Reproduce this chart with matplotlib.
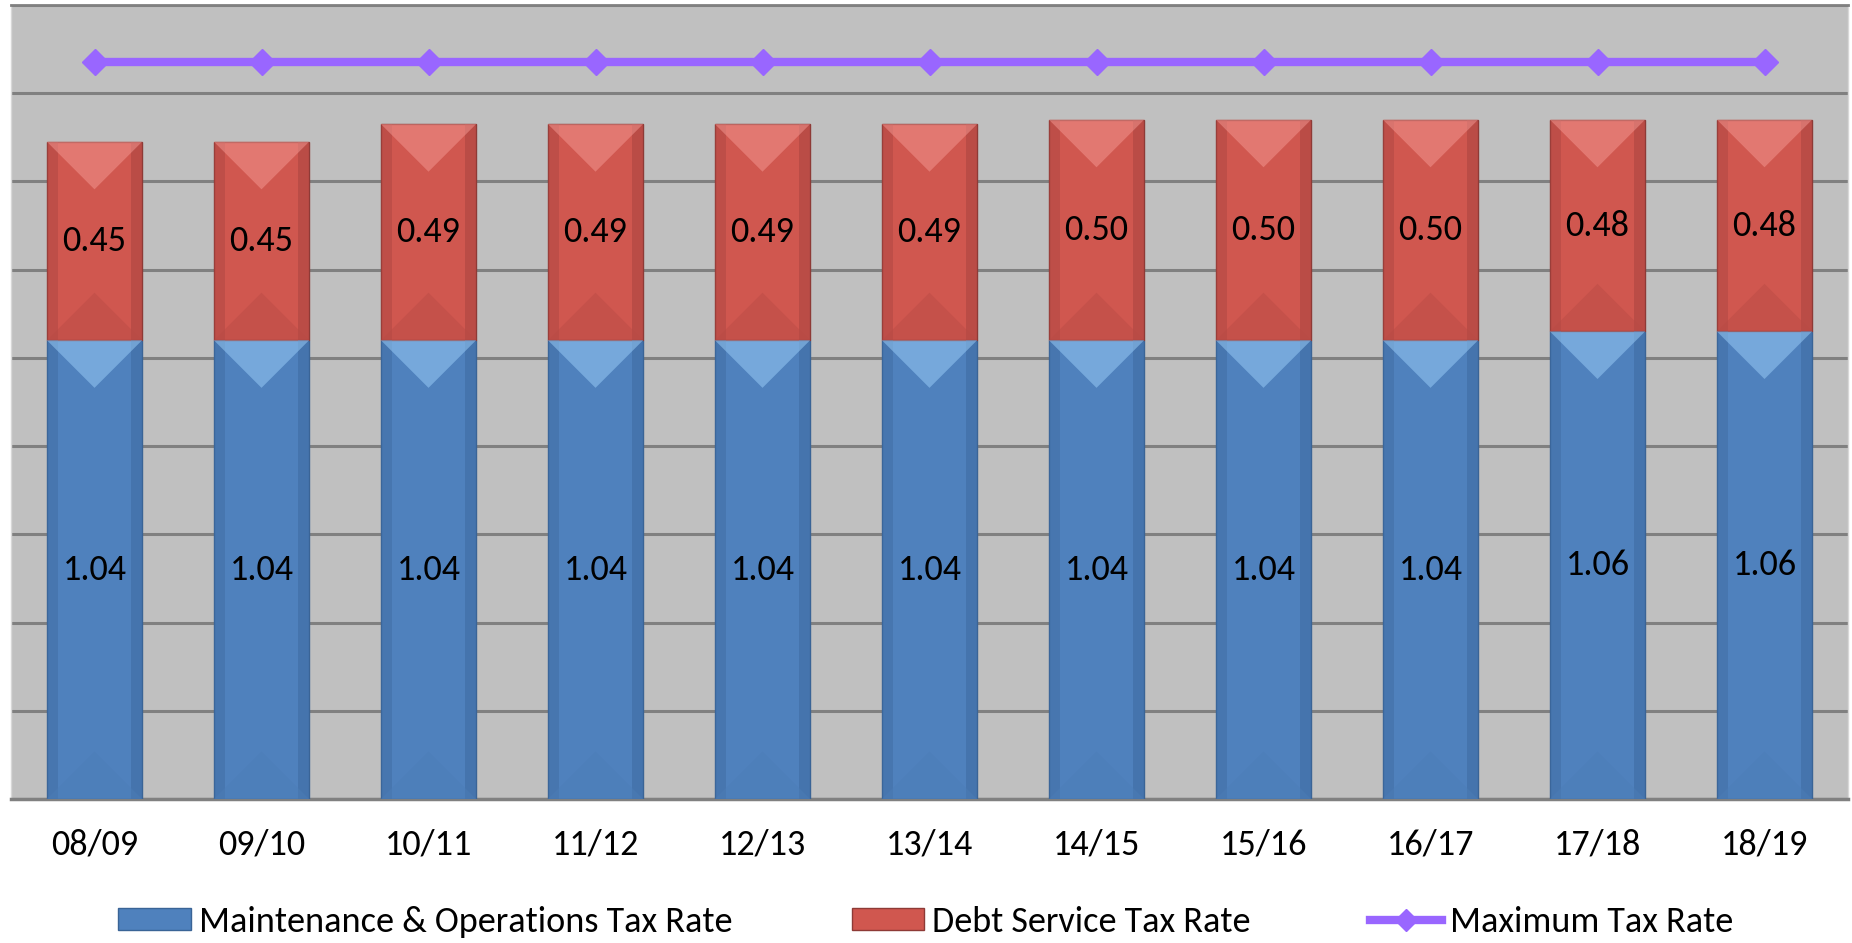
import matplotlib
matplotlib.use("Agg")
import matplotlib.pyplot as plt
from matplotlib.patches import Polygon, Rectangle
from matplotlib.lines import Line2D
from matplotlib import font_manager
import numpy as np

years = ["08/09", "09/10", "10/11", "11/12", "12/13", "13/14", "14/15", "15/16", "16/17", "17/18", "18/19"]
mo_rate = [1.04, 1.04, 1.04, 1.04, 1.04, 1.04, 1.04, 1.04, 1.04, 1.06, 1.06]
ds_rate = [0.45, 0.45, 0.49, 0.49, 0.49, 0.49, 0.50, 0.50, 0.50, 0.48, 0.48]
max_rate = [1.67] * 11

avail = {f.name for f in font_manager.fontManager.ttflist}
fam = [f for f in ["Carlito", "Lato", "DejaVu Sans"] if f in avail]
plt.rcParams['font.family'] = fam
plt.rcParams['font.weight'] = 'normal'

BLUE = "#4F81BD"
PURPLE = "#9966FF"
FS = 26

fig = plt.figure(figsize=(18.52, 9.43), dpi=100)
ax = fig.add_axes([11/1852, 1 - 799/943, (1848-11)/1852, (799-5)/943])
ax.set_facecolor("#C0C0C0")
x = np.arange(len(years))
w = 0.57

b1 = ax.bar(x, mo_rate, w, color="#4F81BD", edgecolor="#3A6496", linewidth=1, zorder=3,
            label="Maintenance & Operations Tax Rate")
b2 = ax.bar(x, ds_rate, w, bottom=mo_rate, color="#D0574F", edgecolor="#8E3A36", linewidth=1, zorder=3,
            label="Debt Service Tax Rate")
ln, = ax.plot(x, max_rate, color=PURPLE, lw=6, marker="D", ms=13, zorder=5, label="Maximum Tax Rate")

ax.set_ylim(0, 1.8)
ax.set_xlim(-0.5, len(years) - 0.5)
ax.set_yticks(np.arange(0, 1.81, 0.2))
ax.yaxis.grid(True, color="#808080", lw=2.2, zorder=1)
ax.set_axisbelow(True)
ax.tick_params(axis="y", left=False, labelleft=False)
ax.tick_params(axis="x", bottom=False, labelsize=FS, pad=18)
ax.set_xticks(x)
ax.set_xticklabels(years)
for s in ["left", "right"]:
    ax.spines[s].set_color("#D8D8D8")
    ax.spines[s].set_linewidth(1)
ax.spines["top"].set_color("#808080")
ax.spines["top"].set_linewidth(2)
ax.spines["bottom"].set_color("#808080")
ax.spines["bottom"].set_linewidth(2.5)

fig.canvas.draw()
inv = ax.transData.inverted()
def px_to_dy(px):
    p0 = inv.transform((0, 0)); p1 = inv.transform((0, px))
    return p1[1] - p0[1]
def px_w(wd):
    p0 = ax.transData.transform((0, 0)); p1 = ax.transData.transform((wd, 0))
    return p1[0] - p0[0]

for bars, light, dark, side in [(b1, "#9DD0FA", "#4C7DB7", "#3E6AA0"), (b2, "#F59A94", "#B84A45", "#A94440")]:
    for r in bars:
        bx, by, bw, bh = r.get_x(), r.get_y(), r.get_width(), r.get_height()
        d = px_to_dy(px_w(bw) / 2)
        ax.add_patch(Rectangle((bx, by), bw * 0.12, bh, color=side, alpha=0.45, lw=0, zorder=3.5))
        ax.add_patch(Rectangle((bx + bw * 0.88, by), bw * 0.12, bh, color=side, alpha=0.55, lw=0, zorder=3.5))
        top = by + bh
        ax.add_patch(Polygon([(bx, top), (bx + bw, top), (bx + bw / 2, top - d)], closed=True,
                             color=light, alpha=0.5, lw=0, zorder=3.6))
        ax.add_patch(Polygon([(bx, by), (bx + bw, by), (bx + bw / 2, by + d)], closed=True,
                             color=dark, alpha=0.45, lw=0, zorder=3.6))

for i in x:
    ax.text(i, mo_rate[i] / 2, f"{mo_rate[i]:.2f}", ha="center", va="center", fontsize=FS, zorder=6)
    ax.text(i, mo_rate[i] + ds_rate[i] / 2, f"{ds_rate[i]:.2f}", ha="center", va="center", fontsize=FS, zorder=6)

h1 = Rectangle((0, 0), 1, 1, facecolor=BLUE, edgecolor="#3A6496")
h2 = Rectangle((0, 0), 1, 1, facecolor="#D0574F", edgecolor="#8E3A36")
h3 = Line2D([], [], color=PURPLE, lw=6, marker="D", ms=11)
fig.legend([h1, h2, h3], ["Maintenance & Operations Tax Rate", "Debt Service Tax Rate", "Maximum Tax Rate"],
           loc="center", bbox_to_anchor=(0.5, 1 - 922/943), ncol=3, frameon=False, fontsize=FS,
           handlelength=2.0, handleheight=0.55, handletextpad=0.23, columnspacing=3.3)

fig.savefig("out.png", dpi=100, facecolor="white")
